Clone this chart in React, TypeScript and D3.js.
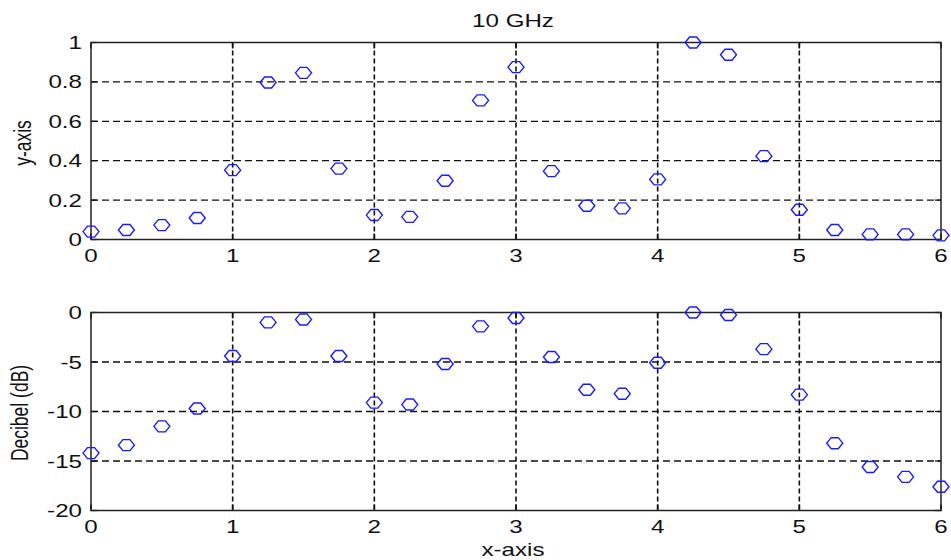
import React from "react";
import * as d3 from "d3";

const xValues = [0, 0.25, 0.5, 0.75, 1, 1.25, 1.5, 1.75, 2, 2.25, 2.5, 2.75, 3, 3.25, 3.5, 3.75, 4, 4.25, 4.5, 4.75, 5, 5.25, 5.5, 5.75, 6];
const linearValues = [0.04, 0.048, 0.073, 0.109, 0.352, 0.797, 0.846, 0.36, 0.124, 0.115, 0.298, 0.706, 0.875, 0.347, 0.171, 0.158, 0.305, 1.0, 0.938, 0.423, 0.151, 0.048, 0.026, 0.026, 0.021];
const dbValues = [-14.2, -13.4, -11.5, -9.7, -4.4, -1.0, -0.7, -4.4, -9.1, -9.3, -5.2, -1.4, -0.56, -4.5, -7.8, -8.2, -5.07, 0, -0.25, -3.7, -8.3, -13.2, -15.6, -16.6, -17.6];
const xTicks = [0, 1, 2, 3, 4, 5, 6];
const topTicks = [0, 0.2, 0.4, 0.6, 0.8, 1];
const topTickLabels = ["0", "0.2", "0.4", "0.6", "0.8", "1"];
const bottomTicks = [-20, -15, -10, -5, 0];
const bottomTickLabels = ["-20", "-15", "-10", "-5", "0"];

const FONT = "'Liberation Sans', Arial, sans-serif";
const FS = 17.5;
const SX = 1.38;

const left = 91;
const right = 941;

function Txt({ x, y, anchor, children, rotate }: any) {
  if (rotate) {
    return (
      <g transform={`translate(${x},${y}) rotate(-90) scale(1,${SX})`}>
        <text x={0} y={0} textAnchor="middle" fontFamily={FONT} fontSize={FS} fill="#111">{children}</text>
      </g>
    );
  }
  return (
    <g transform={`translate(${x},${y}) scale(${SX},1)`}>
      <text x={0} y={0} textAnchor={anchor || "middle"} fontFamily={FONT} fontSize={FS} fill="#111">{children}</text>
    </g>
  );
}

const marker = "M-8,0 L-3.5,-5.5 L3.5,-5.5 L8,0 L3.5,5.5 L-3.5,5.5 Z";

function Panel({ top, bottom, domain, ticks, labels, values }: any) {
  const x = d3.scaleLinear().domain([0, 6]).range([left, right]);
  const y = d3.scaleLinear().domain(domain).range([bottom, top]);
  const tickLen = 6;
  return (
    <g>
      {/* grid */}
      {ticks.filter((t: number) => t !== domain[0] && t !== domain[1]).map((t: number) => (
        <line key={"gy" + t} x1={left} x2={right} y1={y(t)} y2={y(t)} stroke="#111" strokeWidth={1.3} strokeDasharray="7,4" />
      ))}
      {xTicks.filter((t) => t !== 0 && t !== 6).map((t) => (
        <line key={"gx" + t} x1={x(t)} x2={x(t)} y1={top} y2={bottom} stroke="#111" strokeWidth={1.6} strokeDasharray="5,3" />
      ))}
      {/* ticks */}
      {xTicks.map((t) => (
        <g key={"tx" + t}>
          <line x1={x(t)} x2={x(t)} y1={bottom} y2={bottom - tickLen} stroke="#111" strokeWidth={1.6} />
          <line x1={x(t)} x2={x(t)} y1={top} y2={top + tickLen} stroke="#111" strokeWidth={1.6} />
          <Txt x={x(t)} y={bottom + 22.5}>{String(t)}</Txt>
        </g>
      ))}
      {ticks.map((t: number, i: number) => (
        <g key={"ty" + t}>
          <line x1={left} x2={left + tickLen} y1={y(t)} y2={y(t)} stroke="#111" strokeWidth={1.3} />
          <line x1={right} x2={right - tickLen} y1={y(t)} y2={y(t)} stroke="#111" strokeWidth={1.3} />
          <Txt x={82} y={y(t) + 6.5} anchor="end">{labels[i]}</Txt>
        </g>
      ))}
      <rect x={left} y={top} width={right - left} height={bottom - top} fill="none" stroke="#222" strokeWidth={1.5} />
      {values.map((v: number, i: number) => (
        <path key={"m" + i} d={marker} transform={`translate(${x(xValues[i])},${y(v)})`} fill="none" stroke="#1a1aff" strokeWidth={1.4} />
      ))}
    </g>
  );
}

export default function App() {
  return (
    <svg width={951} height={560} style={{ position: "absolute", left: 0, top: 0, display: "block", background: "#fff" }}>
      <rect x={0} y={0} width={951} height={560} fill="#fff" />
      <Txt x={513} y={27}>10 GHz</Txt>
      <Panel top={42.5} bottom={239.5} domain={[0, 1]} ticks={topTicks} labels={topTickLabels} values={linearValues} />
      <Panel top={312.5} bottom={510.5} domain={[-20, 0]} ticks={bottomTicks} labels={bottomTickLabels} values={dbValues} />
      <Txt x={31} y={143} rotate>y-axis</Txt>
      <Txt x={28} y={413} rotate>Decibel (dB)</Txt>
      <Txt x={513} y={556}>x-axis</Txt>
    </svg>
  );
}
